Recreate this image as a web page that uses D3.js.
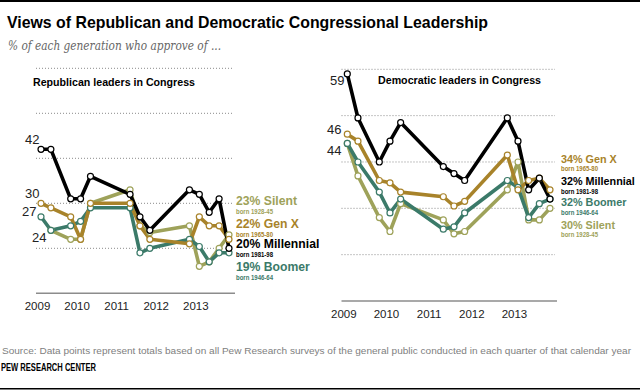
<!DOCTYPE html>
<html><head><meta charset="utf-8">
<script src="https://cdn.jsdelivr.net/npm/d3@7"></script>
<style>body{margin:0;background:#fff}svg{display:block}</style>
</head><body>
<svg id="c" width="640" height="392"></svg>
<script>
// ---- data ----
const quarters = [0,1,3,4,5,9,10,11,15,16,17,18,19]; // quarter index from 2009 Q1
const years = ["2009","2010","2011","2012","2013"];
const gridValues = [20,30,40,50,60];
const generations = ["Silent","Boomer","Gen X","Millennial"];
const bornLabels = {"Silent":"born 1928-45","Boomer":"born 1946-64","Gen X":"born 1965-80","Millennial":"born 1981-98"};

const repSilent     = [null,24,22,22,30,33,25,23.5,25,16,17,20,23];
const repBoomer     = [27,24,25,26,29,29,19,20,22,20.4,17,19,19];
const repGenX       = [30,29,27,22,30,30,25,22,21,27,25,25,22];
const repMillennial = [42,42,31,31,36,32,27,24,33,32,28,31,20];

const demSilent     = [44,37,28,25,31,27.5,24.5,25,34,40,27.5,27.5,30];
const demBoomer     = [44,40,33.5,29,32,25.5,26,29,36,34.5,28,31,32];
const demGenX       = [46,44.5,36,35.5,33.5,32.5,30.5,31.5,41.5,34,36,36.5,34];
const demMillennial = [59,49.5,40,44.5,48.5,39,37.5,36,49.5,44.5,34,36.5,32];

const repStartLabels = [{v:42,t:"42"},{v:30,t:"30"},{v:27,t:"27"},{v:24,t:"24"}];
const demStartLabels = [{v:59,t:"59"},{v:46,t:"46"},{v:44,t:"44"}];
const repEndOrder = ["Silent","Gen X","Millennial","Boomer"];
const demEndOrder = ["Gen X","Millennial","Boomer","Silent"];

const colors = {"Silent":"#9ea25a","Boomer":"#3b7a69","Gen X":"#a8832a","Millennial":"#000000"};

const svg = d3.select("#c");
const FONT = "'Liberation Sans', Arial, sans-serif";

// top and bottom rules
svg.append("rect").attr("x",0).attr("y",0).attr("width",640).attr("height",2).attr("fill","#000");
svg.append("rect").attr("x",0).attr("y",388).attr("width",640).attr("height",1.5).attr("fill","#000");

svg.append("text").attr("x",7).attr("y",28).attr("font-family",FONT).attr("font-weight","bold")
  .attr("font-size",17).attr("textLength",481).attr("lengthAdjust","spacingAndGlyphs")
  .text("Views of Republican and Democratic Congressional Leadership");
svg.append("text").attr("x",8).attr("y",50).attr("font-family","'DejaVu Serif', Georgia, serif").attr("font-style","italic")
  .attr("font-size",13).attr("fill","#666").attr("textLength",213).attr("lengthAdjust","spacingAndGlyphs")
  .text("% of each generation who approve of ...");

function panel(cfg){
  const x = d3.scaleLinear().domain([0,19]).range(cfg.xr);
  const y = d3.scaleLinear().domain([10,60]).range(cfg.yr);
  const g = svg.append("g");
  // grid
  g.selectAll("line.grid").data(gridValues).join("line")
    .attr("x1",cfg.gx[0]).attr("x2",cfg.gx[1]).attr("y1",d=>y(d)).attr("y2",d=>y(d))
    .attr("stroke","#8a8a8a").attr("stroke-width",1).attr("stroke-dasharray","1,2");
  g.append("line").attr("x1",cfg.gx[0]).attr("x2",cfg.gx[1]+2).attr("y1",y(10)).attr("y2",y(10))
    .attr("stroke","#8c8c8c").attr("stroke-width",1.5);
  // years
  g.selectAll("text.yr").data(years).join("text")
    .attr("x",(d,i)=>x(i*4)-3.5).attr("y",y(10)+17).attr("text-anchor","middle")
    .attr("font-family",FONT).attr("font-size",11.5).attr("fill","#222").text(d=>d);
  // heading
  g.append("text").attr("x",cfg.head[0]).attr("y",cfg.head[1]).attr("font-family",FONT)
    .attr("font-weight","bold").attr("font-size",11.5).attr("textLength",cfg.head[2]).attr("lengthAdjust","spacingAndGlyphs")
    .text(cfg.title);
  // lines
  const line = d3.line().defined(d=>d.v!=null).x(d=>x(d.q)).y(d=>y(d.v));
  generations.forEach(gen=>{
    const pts = quarters.map((q,i)=>({q, v:cfg.series[gen][i]}));
    g.append("path").datum(pts).attr("d",line).attr("fill","none")
      .attr("stroke",colors[gen]).attr("stroke-width",3.6).attr("stroke-linejoin","round");
  });
  generations.forEach(gen=>{
    const pts = quarters.map((q,i)=>({q, v:cfg.series[gen][i]})).filter(d=>d.v!=null);
    g.selectAll(null).data(pts).join("circle")
      .attr("cx",d=>x(d.q)).attr("cy",d=>y(d.v)).attr("r",3)
      .attr("fill","#fff").attr("stroke",colors[gen]).attr("stroke-width",1.2);
  });
  // start labels
  g.selectAll("text.sl").data(cfg.startLabels).join("text")
    .attr("x",(d,i)=>cfg.slx[i]).attr("y",(d,i)=>cfg.sly[i])
    .attr("font-family",FONT).attr("font-size",13).attr("fill","#222").text(d=>d.t);
  // end labels
  cfg.endOrder.forEach((gen,i)=>{
    const idx = quarters.length-1;
    const val = Math.round(cfg.series[gen][idx]);
    g.append("text").attr("x",cfg.ex).attr("y",cfg.ey[i]).attr("font-family",FONT)
      .attr("font-weight","bold").attr("font-size",cfg.efs).attr("fill",colors[gen])
      .text(val+"% "+gen);
    g.append("text").attr("x",cfg.ex).attr("y",cfg.ey[i]+8.5).attr("font-family",FONT)
      .attr("font-weight","bold").attr("font-size",6.8).attr("fill",colors[gen])
      .attr("textLength",37).attr("lengthAdjust","spacingAndGlyphs")
      .text(bornLabels[gen]);
  });
}

panel({
  xr:[41,229], yr:[293.3,68.3], gx:[36,233],
  head:[33,86,162], title:"Republican leaders in Congress",
  series:{"Silent":repSilent,"Boomer":repBoomer,"Gen X":repGenX,"Millennial":repMillennial},
  startLabels:repStartLabels, slx:[25,25,22,32], sly:[144,198,216,242],
  endOrder:repEndOrder, ex:236, ey:[205,228,248,271], efs:12.2
});
panel({
  xr:[347.3,550], yr:[301,69.3], gx:[341.5,555],
  head:[378,83.5,163], title:"Democratic leaders in Congress",
  series:{"Silent":demSilent,"Boomer":demBoomer,"Gen X":demGenX,"Millennial":demMillennial},
  startLabels:demStartLabels, slx:[330,327,327], sly:[85,134,155],
  endOrder:demEndOrder, ex:561, ey:[162.5,185,206,228.5], efs:10.8
});

svg.append("text").attr("x",2).attr("y",354).attr("font-family",FONT).attr("font-size",9.5).attr("fill","#808080")
  .attr("textLength",629).attr("lengthAdjust","spacingAndGlyphs")
  .text("Source: Data points represent totals based on all Pew Research surveys of the general public conducted in each quarter of that calendar year");
svg.append("text").attr("x",1).attr("y",371).attr("font-family",FONT).attr("font-weight","bold").attr("font-size",10)
  .attr("textLength",95).attr("lengthAdjust","spacingAndGlyphs").text("PEW RESEARCH CENTER");
</script>
</body></html>
